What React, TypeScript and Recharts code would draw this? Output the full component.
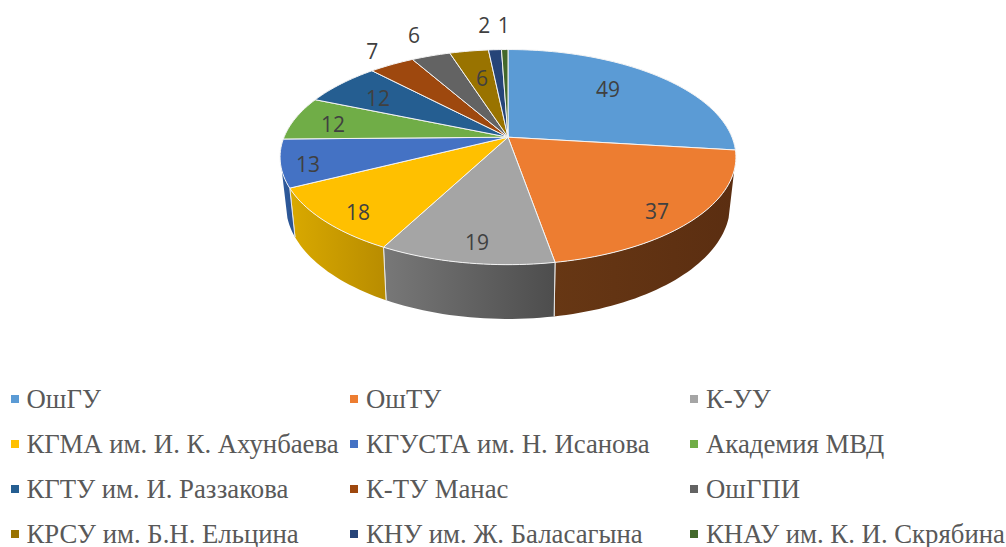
import { PieChart, Pie, Legend } from 'recharts';

const NAMES = [
  'ОшГУ',
  'ОшТУ',
  'К-УУ',
  'КГМА им. И. К. Ахунбаева',
  'КГУСТА им. Н. Исанова',
  'Академия МВД',
  'КГТУ им. И. Раззакова',
  'К-ТУ Манас',
  'ОшГПИ',
  'КРСУ им. Б.Н. Ельцина',
  'КНУ им. Ж. Баласагына',
  'КНАУ им. К. И. Скрябина',
];
const VALUES = [49, 37, 19, 18, 13, 12, 12, 7, 6, 6, 2, 1];
const COLORS = [
  '#5B9BD5', '#ED7D31', '#A5A5A5', '#FFC000', '#4472C4', '#70AD47',
  '#255E91', '#9E480E', '#636363', '#997300', '#264478', '#43682B',
];

// shading of the pie's rim, left to right, for the slices that show one
const RIM_SHADES: Record<number, [string, string]> = {
  1: ['#673714', '#5B2E11'],
  2: ['#787878', '#4D4D4D'],
  3: ['#D9A900', '#B88C00'],
  4: ['#2F5C9E', '#2A5290'],
};

// where each value label sits: fraction of the radius, and turn off the bisector in degrees
const LABEL_RADIUS = [0.71, 0.855, 0.849, 0.862, 0.886, 0.813, 0.749, 1.231, 1.326, 0.657, 1.376, 1.37];
const LABEL_TURN = [-4.9, 2.9, -1, -2.1, -1.8, -1.2, -1.1, 0.9, 0.9, 0.5, -1.6, 0];

const tableData = NAMES.map((name, i) => ({ name, value: VALUES[i], fill: COLORS[i] }));

const WIDTH = 1006;
const HEIGHT = 547;
const CX = 508;

// perspective of the tilted disc, top face and bottom face
const TOP = { d: 224, a: 78.5, b: 137.2, c: -0.185 };
const BOTTOM = { d: 218, a: 75, b: 183, c: -0.191 };
const RIM_FROM = 0.3; // rim only shows in front of this depth

type Face = typeof TOP;

// deg is clockwise from 12 o'clock
const project = (face: Face, deg: number, r = 1) => {
  const rad = (deg * Math.PI) / 180;
  const x = r * Math.sin(rad);
  const y = -r * Math.cos(rad);
  const w = 1 + face.c * y;
  return { x: CX + (face.d * x) / w, y: (face.a * y + face.b) / w };
};

const sweep = (from: number, to: number) => {
  const out: number[] = [];
  for (let t = from; t < to; t += 1.5) out.push(t);
  out.push(to);
  return out;
};

const toPath = (pts: { x: number; y: number }[]) =>
  pts.map((p, i) => `${i ? 'L' : 'M'}${p.x.toFixed(2)},${p.y.toFixed(2)}`).join(' ');

const rimStart = (Math.acos(-RIM_FROM) * 180) / Math.PI;
const rimEnd = 360 - rimStart;

function Slice3D(props: any) {
  const { startAngle, endAngle, fill, index } = props;
  const from = 90 - startAngle;
  const to = 90 - endAngle;
  const hub = { x: CX, y: TOP.b };
  const top = toPath([hub, ...sweep(from, to).map((t) => project(TOP, t))]) + ' Z';

  const rimA = Math.max(from, rimStart);
  const rimB = Math.min(to, rimEnd);
  const shades = RIM_SHADES[index];
  const hasRim = rimB > rimA && shades;
  let rim = '';
  let edges: string[] = [];
  if (hasRim) {
    const angles = sweep(rimA, rimB);
    rim =
      toPath([
        ...angles.map((t) => project(TOP, t)),
        ...angles.slice().reverse().map((t) => project(BOTTOM, t)),
      ]) + ' Z';
    edges = [rimA, rimB]
      .filter((t) => t === from || t === to)
      .map((t) => toPath([project(TOP, t), project(BOTTOM, t)]));
  }
  const gradId = `rim-${index}`;
  return (
    <g>
      {hasRim ? (
        <>
          <defs>
            <linearGradient id={gradId} x1="0" y1="0" x2="1" y2="0">
              <stop offset="0%" stopColor={shades[0]} />
              <stop offset="100%" stopColor={shades[1]} />
            </linearGradient>
          </defs>
          <path d={rim} fill={`url(#${gradId})`} />
          {edges.map((d, i) => (
            <path key={i} d={d} stroke="#E8E8E8" strokeWidth={1} fill="none" />
          ))}
        </>
      ) : null}
      <path d={top} fill={fill} stroke="#F4F4F4" strokeWidth={1} strokeLinejoin="round" />
    </g>
  );
}

function renderLabel(props: any) {
  const { midAngle, index, value } = props;
  const deg = 90 - midAngle + LABEL_TURN[index];
  const p = project(TOP, deg, LABEL_RADIUS[index]);
  return (
    <text
      x={p.x}
      y={p.y + 1}
      textAnchor="middle"
      dominantBaseline="central"
      fontFamily="'Open Sans', sans-serif"
      fontSize={21}
      fill="#404040"
    >
      {value}
    </text>
  );
}

function LegendGrid({ payload }: any) {
  return (
    <div
      style={{
        display: 'grid',
        gridTemplateColumns: '339.5px 340px 300px',
        gridAutoRows: '45px',
        paddingLeft: 10.5,
        fontFamily: "'Liberation Serif', 'Times New Roman', serif",
        fontSize: 26.75,
        color: '#595959',
        whiteSpace: 'nowrap',
      }}
    >
      {(payload ?? []).map((item: any) => (
        <div key={item.value} style={{ display: 'flex', alignItems: 'center', height: 24, marginTop: 10 }}>
          <span
            style={{
              width: 8,
              height: 8,
              background: item.color,
              marginRight: 8,
              flex: 'none',
            }}
          />
          <span style={{ display: 'block', lineHeight: '24px', height: 24 }}>{item.value}</span>
        </div>
      ))}
    </div>
  );
}

export default function App() {
  return (
    <div style={{ position: 'absolute', left: 0, top: 0, width: WIDTH, height: HEIGHT, background: '#fff', overflow: 'hidden' }}>
      <PieChart width={WIDTH} height={HEIGHT} margin={{ top: 0, right: 0, bottom: 0, left: 0 }}>
        <Pie
          data={tableData}
          dataKey="value"
          nameKey="name"
          cx={CX}
          cy={TOP.b}
          outerRadius={TOP.d}
          startAngle={90}
          endAngle={-270}
          stroke="none"
          shape={Slice3D}
          label={renderLabel}
          labelLine={false}
          isAnimationActive={false}
        />
        <Legend
          content={<LegendGrid />}
          itemSorter={null}
          layout="horizontal"
          verticalAlign="top"
          wrapperStyle={{ left: 0, top: 376.5, width: WIDTH, height: 170 }}
        />
      </PieChart>
    </div>
  );
}
